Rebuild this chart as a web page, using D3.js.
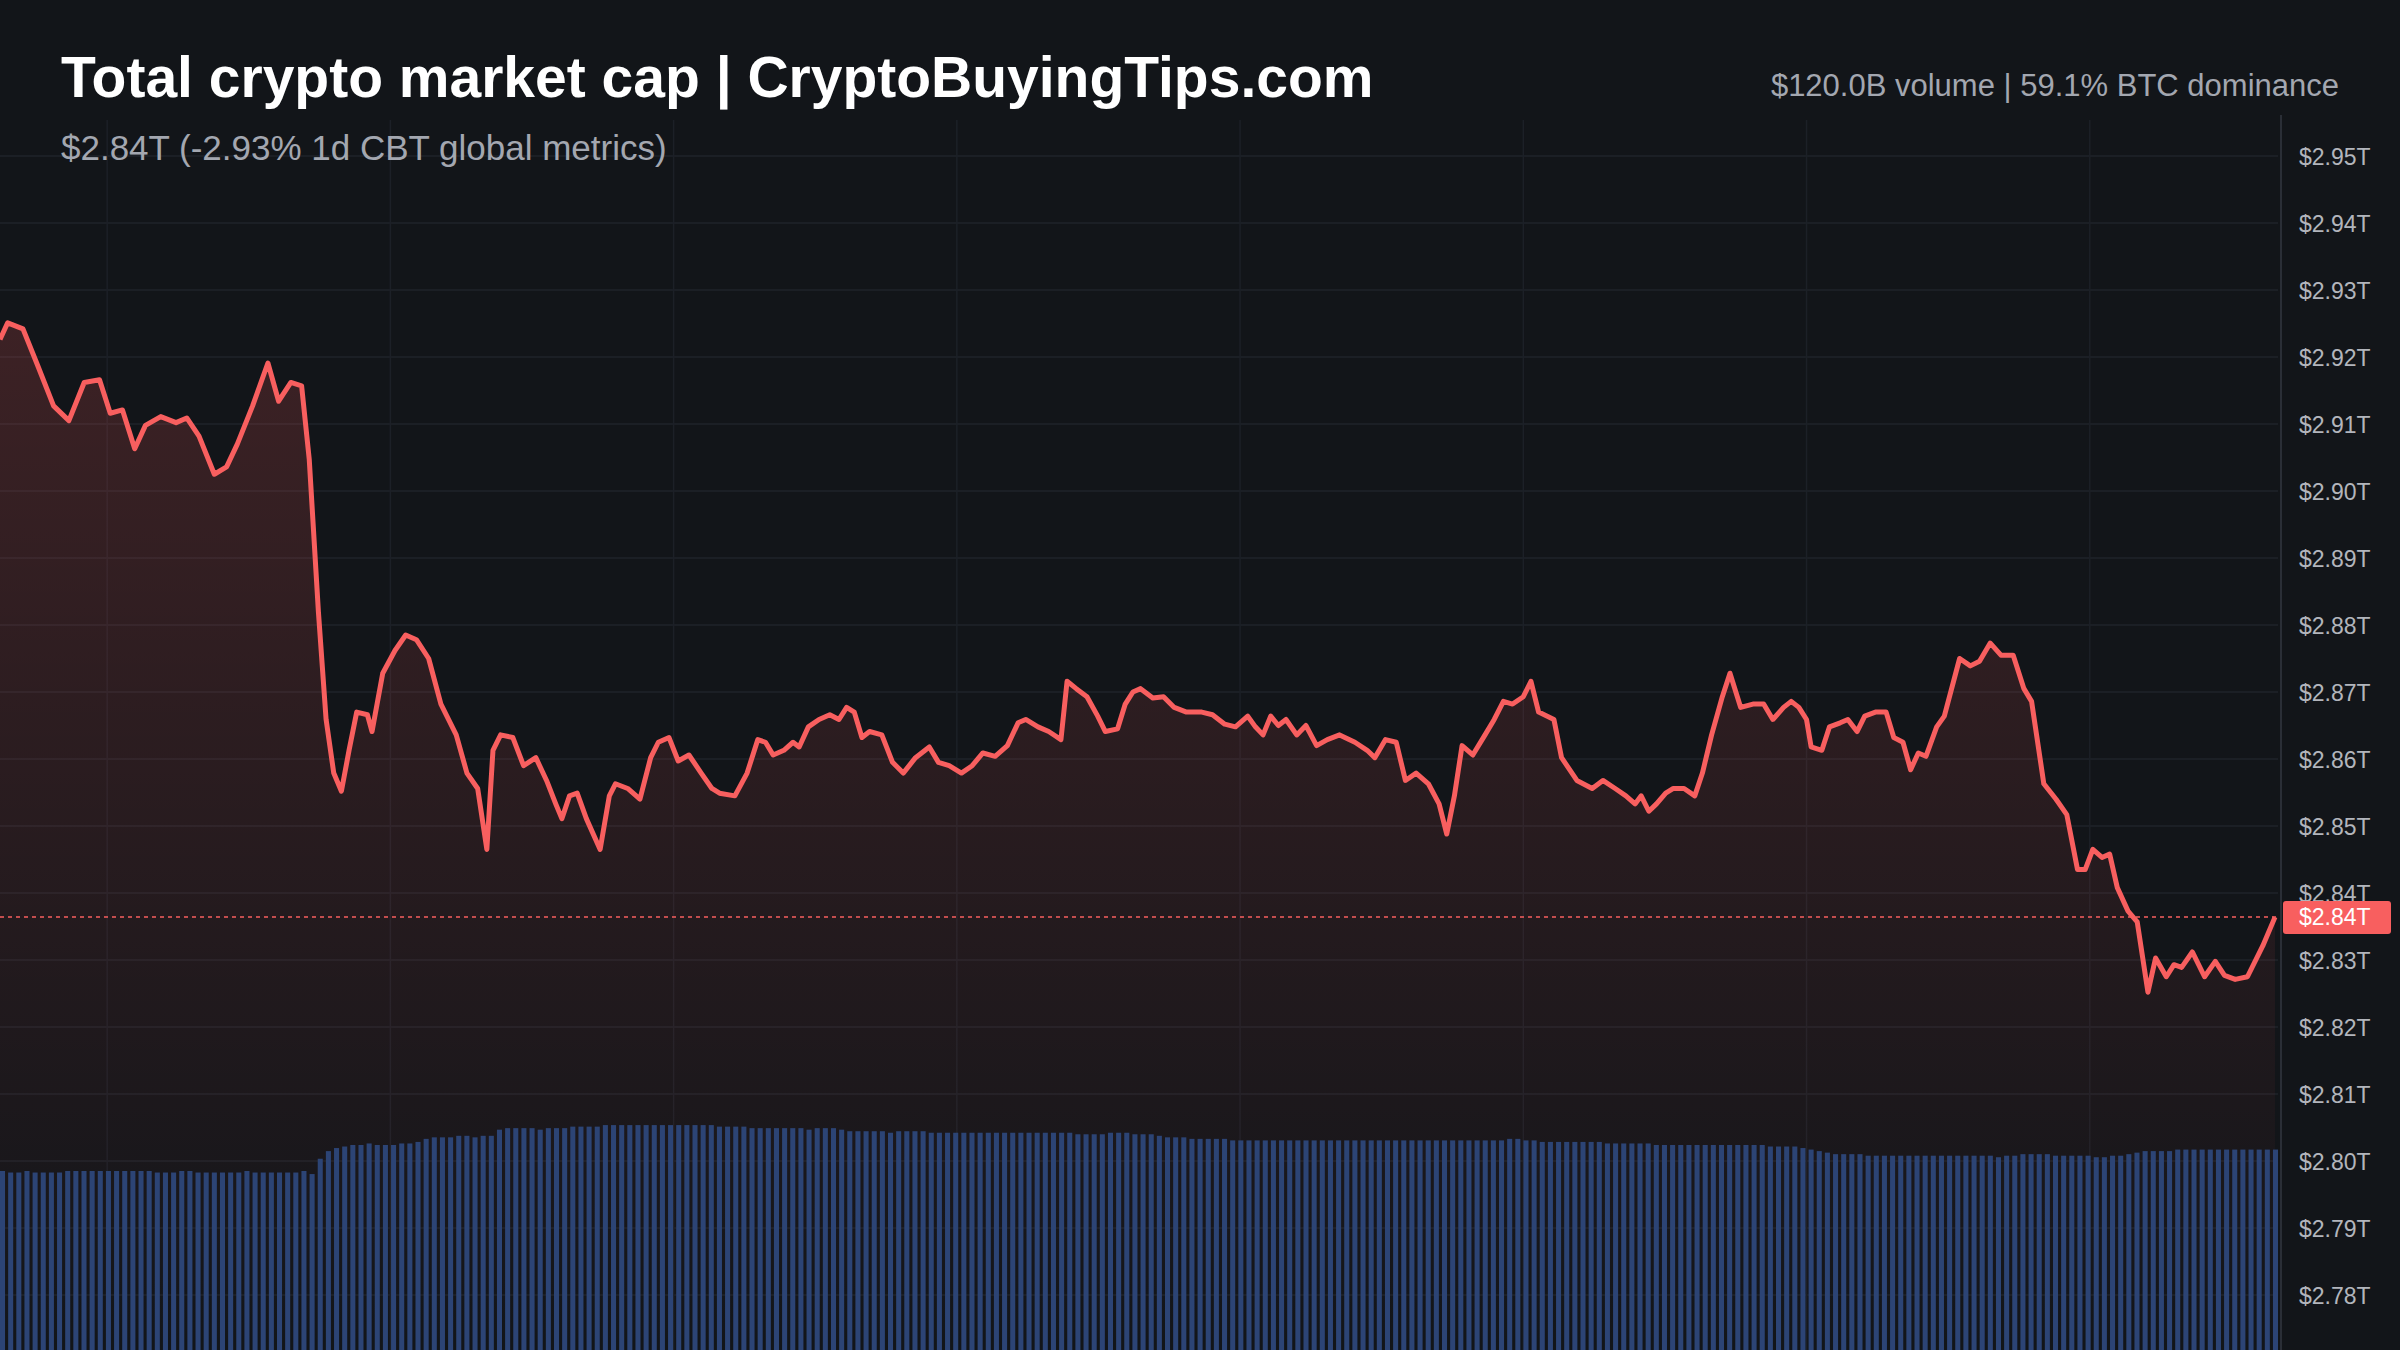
<!DOCTYPE html>
<html>
<head>
<meta charset="utf-8">
<script src="https://cdn.jsdelivr.net/npm/d3@7"></script>
<style>
  html, body { margin: 0; padding: 0; background: #121519; overflow: hidden; }
  svg { display: block; font-family: "Liberation Sans", Arial, sans-serif; }
</style>
</head>
<body>
<script>
// time position of each sample (0 .. 1486 across the day)
const t = [
  0,5,15,25,35,45,55,65,72,80,88,95,105,115,122,130,140,148,155,165,175,182,190,197,202,208,213,218,223,228,
  233,240,243,250,258,265,272,280,288,298,305,312,318,322,327,335,342,350,357,363,367,372,377,383,392,398,402,410,418,425,
  430,437,443,450,458,465,470,480,488,495,500,505,512,518,522,528,535,542,548,553,558,563,568,576,583,590,598,607,613,620,
  628,635,642,650,658,665,670,678,685,693,697,703,710,717,722,730,735,740,745,753,760,767,775,785,792,800,807,815,820,825,
  830,835,840,847,853,860,867,875,885,893,898,905,912,918,925,933,940,945,950,955,962,970,976,982,988,995,1000,1005,1015,1020,
  1030,1040,1047,1055,1062,1068,1072,1077,1082,1088,1093,1100,1107,1112,1118,1125,1130,1137,1145,1152,1158,1165,1170,1175,1180,1183,1190,1195,1202,1207,
  1213,1218,1225,1232,1237,1243,1248,1253,1258,1265,1270,1280,1287,1293,1300,1307,1315,1322,1327,1335,1343,1350,1357,1362,1367,1373,1378,1383,1390,1396,
  1403,1408,1415,1420,1425,1432,1440,1447,1453,1460,1468,1478,1486
];
// total market cap, $B
const cap = [
  2922.6,2925.1,2924.2,2918.5,2912.7,2910.5,2916.2,2916.6,2911.6,2912.1,2906.3,2909.8,2911.1,2910.2,2910.9,2908.2,2902.5,2903.6,2907.0,2912.7,2919.1,2913.4,2916.2,2915.7,2904.7,2881.9,2865.9,2857.9,2855.2,2861.3,
  2867.0,2866.6,2864.1,2872.8,2876.2,2878.5,2877.8,2875.0,2868.2,2863.6,2857.9,2855.6,2846.5,2861.3,2863.6,2863.2,2859.0,2860.2,2856.8,2853.3,2851.1,2854.5,2854.9,2851.1,2846.5,2854.5,2856.3,2855.6,2854.0,2860.2,
  2862.5,2863.2,2859.7,2860.6,2857.9,2855.6,2854.9,2854.5,2857.9,2862.9,2862.5,2860.6,2861.3,2862.5,2861.8,2864.8,2865.9,2866.6,2865.9,2867.7,2867.0,2863.2,2864.1,2863.6,2859.5,2857.9,2860.2,2861.8,2859.5,2859.0,
  2857.9,2859.0,2860.9,2860.4,2862.0,2865.4,2865.9,2864.8,2864.1,2862.9,2871.6,2870.5,2869.3,2866.4,2864.1,2864.5,2868.2,2870.0,2870.5,2869.1,2869.3,2867.7,2867.0,2867.0,2866.6,2865.2,2864.8,2866.4,2864.8,2863.6,
  2866.4,2865.0,2865.9,2863.6,2865.0,2862.0,2862.9,2863.6,2862.5,2861.3,2860.2,2862.9,2862.5,2856.8,2857.9,2856.3,2853.3,2848.8,2854.5,2862.0,2860.6,2863.6,2865.9,2868.6,2868.2,2869.3,2871.6,2867.0,2865.9,2860.2,
  2856.8,2855.6,2856.8,2855.6,2854.5,2853.3,2854.5,2852.2,2853.3,2854.9,2855.6,2855.6,2854.5,2857.9,2863.6,2869.3,2872.8,2867.7,2868.2,2868.2,2865.9,2867.7,2868.6,2867.7,2865.9,2861.8,2861.3,2864.8,2865.4,2865.9,
  2864.1,2866.4,2867.0,2867.0,2863.2,2862.5,2858.4,2860.9,2860.4,2864.8,2866.4,2875.0,2873.9,2874.6,2877.3,2875.5,2875.5,2870.5,2868.6,2856.3,2854.0,2851.7,2843.5,2843.5,2846.5,2845.3,2845.8,2840.8,2837.3,2835.7,
  2825.2,2830.3,2827.5,2829.3,2828.9,2831.2,2827.5,2829.8,2827.7,2827.1,2827.5,2832.1,2836.4
];
// volume bars (relative units), evenly spaced through the day
const volume = [
  117,116,116,117,116,116,116,116,117,117,117,117,117,117,117,117,117,117,117,116,
  116,116,117,117,116,116,116,116,116,116,117,116,116,116,116,116,116,117,115,125,
  130,132,133,134,134,135,134,134,134,135,135,136,138,139,139,139,140,140,139,140,
  140,144,145,145,145,145,144,145,145,145,146,146,146,146,147,147,147,147,147,147,
  147,147,147,147,147,147,147,147,146,146,146,146,145,145,145,145,145,145,145,144,
  145,145,145,144,143,143,143,143,143,142,143,143,143,143,142,142,142,142,142,142,
  142,142,142,142,142,142,142,142,142,142,142,142,141,141,141,141,142,142,142,141,
  141,141,140,139,139,139,138,138,138,138,138,137,137,137,137,137,137,137,137,137,
  137,137,137,137,137,137,137,137,137,137,137,137,137,137,137,137,137,137,137,137,
  137,137,137,137,137,138,138,137,137,136,136,136,136,136,136,136,136,135,135,135,
  135,135,135,134,134,134,134,134,134,134,134,134,134,134,134,134,134,133,133,133,
  133,132,131,130,129,128,128,128,128,127,127,127,127,127,127,127,127,127,127,127,
  127,127,127,127,127,126,127,127,128,128,128,128,127,127,127,127,127,126,126,127,
  127,128,129,130,130,130,130,131,131,131,131,131,131,131,131,131,131,131,131,131
];
const yTicks = [2950,2940,2930,2920,2910,2900,2890,2880,2870,2860,2850,2840,2830,2820,2810,2800,2790,2780];
const timeTicks = [70,255,440,625,810,995,1180,1365];

const title = "Total crypto market cap | CryptoBuyingTips.com";
const subtitle = "$2.84T (-2.93% 1d CBT global metrics)";
const stats = "$120.0B volume | 59.1% BTC dominance";

const W = 2400, H = 1350;
const plotRight = 2278;

const svg = d3.select("body").append("svg").attr("width", W).attr("height", H);
svg.append("rect").attr("width", W).attr("height", H).attr("fill", "#121519");

const x = d3.scaleLinear().domain([0, 1486]).range([0, 2275]);
const y = d3.scaleLinear().domain([2780, 2950]).range([1295, 156]);
const xb = d3.scaleBand().domain(d3.range(volume.length)).range([0, plotRight]).paddingInner(0.38);
const yv = d3.scaleLinear().domain([0, 147]).range([H, H - 147 * 1.53]);

// grid
svg.append("g").selectAll("line").data(yTicks).join("line")
  .attr("x1", 0).attr("x2", plotRight).attr("y1", d => y(d)).attr("y2", d => y(d))
  .attr("stroke", "#1f232a").attr("stroke-width", 1.5);
svg.append("g").selectAll("line").data(timeTicks).join("line")
  .attr("x1", d => x(d)).attr("x2", d => x(d)).attr("y1", 120).attr("y2", H)
  .attr("stroke", "#1c2027").attr("stroke-width", 1.5);

// gradient fill under line
const defs = svg.append("defs");
const grad = defs.append("linearGradient").attr("id", "g").attr("x1", 0).attr("x2", 0).attr("y1", 0).attr("y2", 1);
grad.append("stop").attr("offset", "0%").attr("stop-color", "#ff5a5a").attr("stop-opacity", 0.18);
grad.append("stop").attr("offset", "100%").attr("stop-color", "#ff5a5a").attr("stop-opacity", 0.0);

const pts = t.map((d, i) => ({t: d, v: cap[i]}));
const area = d3.area().x(d => x(d.t)).y0(H).y1(d => y(d.v));
svg.append("path").attr("d", area(pts)).attr("fill", "url(#g)");

// volume bars
svg.append("g").selectAll("rect").data(volume).join("rect")
  .attr("x", (d, i) => xb(i)).attr("width", xb.bandwidth())
  .attr("y", d => yv(d)).attr("height", d => H - yv(d))
  .attr("fill", "#2c4475");

// line
const line = d3.line().x(d => x(d.t)).y(d => y(d.v));
svg.append("path").attr("d", line(pts)).attr("fill", "none")
  .attr("stroke", "#f85f5f").attr("stroke-width", 5).attr("stroke-linejoin", "round");

// last price line
const last = cap[cap.length - 1];
svg.append("line").attr("x1", 0).attr("x2", plotRight).attr("y1", y(last)).attr("y2", y(last))
  .attr("stroke", "#f85f5f").attr("stroke-width", 1.5).attr("stroke-dasharray", "4,4");

// right axis
svg.append("rect").attr("x", plotRight + 3).attr("y", 0).attr("width", W - plotRight).attr("height", H).attr("fill", "#121519");
svg.append("line").attr("x1", plotRight + 3).attr("x2", plotRight + 3).attr("y1", 115).attr("y2", H)
  .attr("stroke", "#2a2e36").attr("stroke-width", 2);
const axis = d3.axisRight(y).tickValues(yTicks).tickSize(0).tickPadding(0)
  .tickFormat(d => "$" + (d / 1000).toFixed(2) + "T");
const ag = svg.append("g").attr("transform", `translate(2299,0)`).call(axis);
ag.select(".domain").remove();
ag.selectAll("text").attr("fill", "#b2b5bc").attr("font-size", 23).attr("dy", "0.35em");

// current price label
svg.append("rect").attr("x", plotRight + 5).attr("y", y(last) - 16).attr("width", 108).attr("height", 33)
  .attr("rx", 3).attr("fill", "#f85f5f");
svg.append("text").attr("x", 2299).attr("y", y(last)).attr("dy", "0.35em")
  .attr("fill", "#fff").attr("font-size", 23).text("$" + (last / 1000).toFixed(2) + "T");

// header
svg.append("text").attr("x", 61).attr("y", 97).attr("fill", "#ffffff")
  .attr("font-size", 57).attr("font-weight", "bold").text(title);
svg.append("text").attr("x", 61).attr("y", 160).attr("fill", "#a3a7b0")
  .attr("font-size", 35).text(subtitle);
svg.append("text").attr("x", 2339).attr("y", 96).attr("text-anchor", "end").attr("fill", "#a3a7b0")
  .attr("font-size", 31).text(stats);
</script>
</body>
</html>
